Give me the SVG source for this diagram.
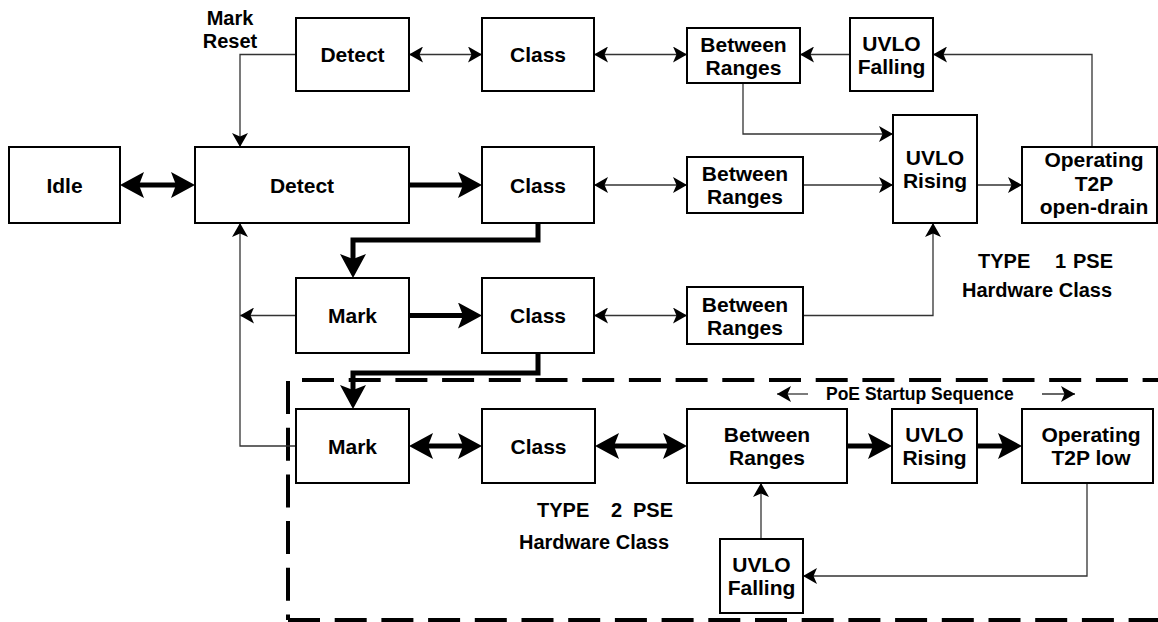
<svg xmlns="http://www.w3.org/2000/svg" width="1158" height="622" viewBox="0 0 1158 622">
<style>
.box{fill:#fff;stroke:#000;stroke-width:2}
.t{font-family:"Liberation Sans",Arial,sans-serif;font-weight:bold;font-size:21px;fill:#000;text-anchor:middle}
.lbl{font-family:"Liberation Sans",Arial,sans-serif;font-weight:bold;font-size:20px;fill:#000}
.poe{font-family:"Liberation Sans",Arial,sans-serif;font-weight:bold;font-size:17.5px;fill:#000}
.thin{fill:none;stroke:#333;stroke-width:1.3;marker-end:url(#ah)}
.thin2{fill:none;stroke:#333;stroke-width:1.3;marker-end:url(#ah);marker-start:url(#ah)}
.thick{fill:none;stroke:#000;stroke-width:5;stroke-linejoin:miter;marker-end:url(#ahT)}
.thick2{fill:none;stroke:#000;stroke-width:5;marker-end:url(#ahT);marker-start:url(#ahT)}
.dash{fill:none;stroke:#000;stroke-width:4}
</style>
<defs>
<marker id="ah" viewBox="0 0 14 16" refX="14" refY="8" markerWidth="14" markerHeight="16" markerUnits="userSpaceOnUse" orient="auto-start-reverse"><path d="M0,0 L14,8 L0,16 L3.5,8 Z" fill="#000"/></marker>
<marker id="ahT" viewBox="0 0 24 26" refX="14" refY="13" markerWidth="24" markerHeight="26" markerUnits="userSpaceOnUse" orient="auto-start-reverse"><path d="M0,0 L24,13 L0,26 L5,13 Z" fill="#000"/></marker>
</defs>

<g id="type2-frame">
<path class="dash" d="M302,380 H1160" stroke-dasharray="32 14.7"/>
<path class="dash" d="M288,381 V620" stroke-dasharray="33 13.7"/>
<path class="dash" d="M288,620 H1160" stroke-dasharray="32 14.7"/>
</g>

<g id="connectors">
<!-- row 1 -->
<path class="thin2" d="M409,54.5 H482"/>
<path class="thin2" d="M594,54.5 H687"/>
<path class="thin" d="M850,54.5 H800"/>
<path class="thin" d="M1092,147 V54.5 H933"/>
<path class="thin" d="M743,83 V134 H893"/>
<path class="thin" d="M296,54.5 H240 V147"/>
<!-- row 2 -->
<path class="thick2" d="M130,185 H185"/>
<path class="thick" d="M409,185 H472"/>
<path class="thin2" d="M594,185 H687"/>
<path class="thin" d="M803,185 H893"/>
<path class="thin" d="M977,185 H1022"/>
<path class="thick" d="M538,223 V240 H353 V268"/>
<!-- row 3 -->
<path class="thick" d="M409,315.5 H472"/>
<path class="thin2" d="M594,315.5 H687"/>
<path class="thin" d="M803,315.5 H933 V223"/>
<path class="thin" d="M296,315.5 H240"/>
<path class="thin" d="M296,446 H240 V223"/>
<path class="thick" d="M538,353 V373 H353 V399"/>
<!-- row 4 -->
<path class="thick2" d="M419,446 H472"/>
<path class="thick2" d="M605,446 H677"/>
<path class="thick" d="M847,446 H882"/>
<path class="thick" d="M977,446 H1012"/>
<path class="thin" d="M761,539 V483"/>
<path class="thin" d="M1087,483 V576 H803"/>
<path class="thin" d="M808,394 H777"/>
<path class="thin" d="M1042,394 H1075"/>
</g>

<g id="idle"><rect class="box" x="9" y="147" width="111" height="76"/><text class="t" x="64.5" y="192.5">Idle</text></g>
<g id="detect-top"><rect class="box" x="296" y="18" width="113" height="73"/><text class="t" x="352.5" y="62">Detect</text></g>
<g id="class-top"><rect class="box" x="482" y="18" width="112" height="73"/><text class="t" x="538" y="62">Class</text></g>
<g id="between-top"><rect class="box" x="687" y="28" width="113" height="55"/><text class="t" x="743.5" y="51.5">Between</text><text class="t" x="743.5" y="74.5">Ranges</text></g>
<g id="uvlo-falling-top"><rect class="box" x="850" y="18" width="83" height="73"/><text class="t" x="891.5" y="50.5">UVLO</text><text class="t" x="891.5" y="73.5">Falling</text></g>
<g id="uvlo-rising-top"><rect class="box" x="893" y="115" width="84" height="108"/><text class="t" x="935" y="165">UVLO</text><text class="t" x="935" y="188">Rising</text></g>
<g id="operating-od"><rect class="box" x="1022" y="147" width="135" height="76"/><text class="t" x="1094" y="167">Operating</text><text class="t" x="1094" y="191">T2P</text><text class="t" x="1094" y="214">open-drain</text></g>

<g id="detect-main"><rect class="box" x="195" y="147" width="214" height="76"/><text class="t" x="302" y="192.5">Detect</text></g>
<g id="class-mid"><rect class="box" x="482" y="147" width="112" height="76"/><text class="t" x="538" y="192.5">Class</text></g>
<g id="between-mid"><rect class="box" x="687" y="157" width="116" height="56"/><text class="t" x="745" y="181">Between</text><text class="t" x="745" y="204">Ranges</text></g>

<g id="mark-3"><rect class="box" x="296" y="278" width="113" height="75"/><text class="t" x="352.5" y="323">Mark</text></g>
<g id="class-3"><rect class="box" x="482" y="278" width="112" height="75"/><text class="t" x="538" y="323">Class</text></g>
<g id="between-3"><rect class="box" x="687" y="287" width="116" height="57"/><text class="t" x="745" y="311.5">Between</text><text class="t" x="745" y="334.5">Ranges</text></g>

<g id="mark-4"><rect class="box" x="296" y="409" width="113" height="74"/><text class="t" x="352.5" y="453.5">Mark</text></g>
<g id="class-4"><rect class="box" x="482" y="409" width="113" height="74"/><text class="t" x="538.5" y="453.5">Class</text></g>
<g id="between-4"><rect class="box" x="687" y="409" width="160" height="74"/><text class="t" x="767" y="442">Between</text><text class="t" x="767" y="465">Ranges</text></g>
<g id="uvlo-rising-4"><rect class="box" x="892" y="409" width="85" height="74"/><text class="t" x="934.5" y="442">UVLO</text><text class="t" x="934.5" y="465">Rising</text></g>
<g id="operating-low"><rect class="box" x="1022" y="409" width="131" height="74"/><text class="t" x="1091" y="442">Operating</text><text class="t" x="1091" y="465">T2P low</text></g>
<g id="uvlo-falling-4"><rect class="box" x="720" y="539" width="83" height="74"/><text class="t" x="761.5" y="572">UVLO</text><text class="t" x="761.5" y="595">Falling</text></g>

<g id="labels">
<text class="t" x="230" y="25" style="font-size:20px">Mark</text>
<text class="t" x="230" y="48" style="font-size:20px">Reset</text>
<text class="lbl" y="268"><tspan x="978">TYPE</tspan> <tspan x="1055">1</tspan> <tspan x="1073">PSE</tspan></text>
<text class="lbl" x="962" y="297">Hardware Class</text>
<text class="lbl" y="517"><tspan x="537">TYPE</tspan> <tspan x="611">2</tspan> <tspan x="633">PSE</tspan></text>
<text class="lbl" x="519" y="549">Hardware Class</text>
<text class="poe" x="826" y="400">PoE Startup Sequence</text>
</g>
</svg>
